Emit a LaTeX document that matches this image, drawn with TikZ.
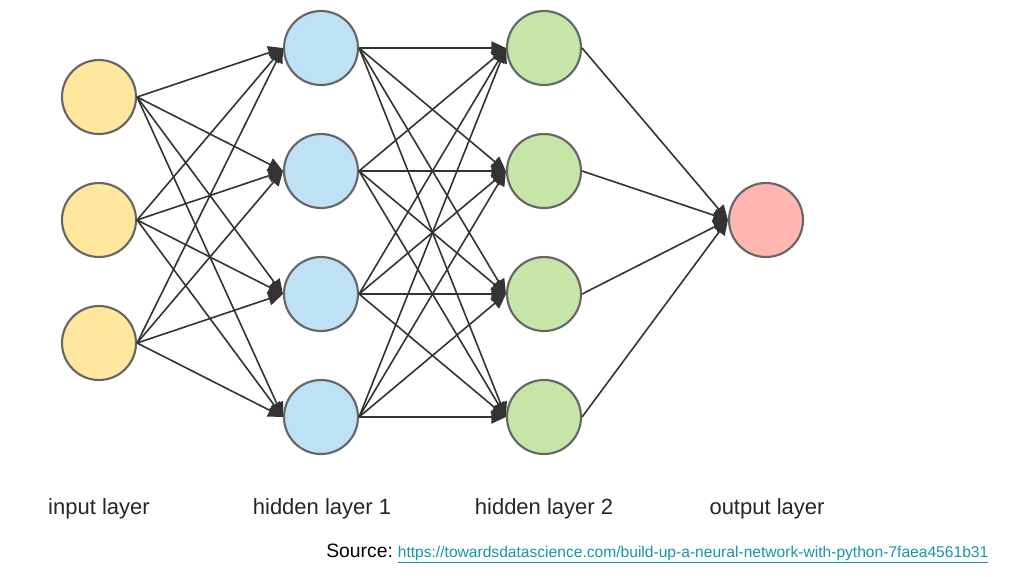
\documentclass[tikz,border=0pt]{standalone}
\usepackage{fontspec}
\setmainfont{Liberation Sans}
\usetikzlibrary{arrows.meta}
\definecolor{inyel}{HTML}{FFE79E}
\definecolor{hblue}{HTML}{BEE1F5}
\definecolor{hgreen}{HTML}{C6E6A7}
\definecolor{ored}{HTML}{FFB6B1}
\definecolor{ringc}{HTML}{666666}
\definecolor{edgec}{HTML}{333333}
\definecolor{linkc}{HTML}{1597A5}
\begin{document}
\begin{tikzpicture}[x=0.75pt,y=-0.75pt,
  neuron/.style={circle,draw=ringc,line width=1.6pt,minimum size=55.5pt,inner sep=0pt},
  conn/.style={draw=edgec,line width=1.2pt,-{Triangle[length=11pt,width=10pt]}},
  lbl/.style={font=\fontsize{16.5}{18}\selectfont,text=black!85,inner sep=0pt}]
\useasboundingbox[fill=white] (0,0) rectangle (1024,576);
% input
\node[neuron,fill=inyel] (i1) at (99,97) {};
\node[neuron,fill=inyel] (i2) at (99,220) {};
\node[neuron,fill=inyel] (i3) at (99,343) {};
% hidden 1
\node[neuron,fill=hblue] (a1) at (321,48) {};
\node[neuron,fill=hblue] (a2) at (321,171) {};
\node[neuron,fill=hblue] (a3) at (321,294) {};
\node[neuron,fill=hblue] (a4) at (321,417) {};
% hidden 2
\node[neuron,fill=hgreen] (b1) at (544,48) {};
\node[neuron,fill=hgreen] (b2) at (544,171) {};
\node[neuron,fill=hgreen] (b3) at (544,294) {};
\node[neuron,fill=hgreen] (b4) at (544,417) {};
% output
\node[neuron,fill=ored] (o) at (766,220) {};
% connections
\foreach \s in {i1,i2,i3}{\foreach \t in {a1,a2,a3,a4}{\draw[conn] (\s.east) -- (\t.west);}}
\foreach \s in {a1,a2,a3,a4}{\foreach \t in {b1,b2,b3,b4}{\draw[conn] (\s.east) -- (\t.west);}}
\foreach \s in {b1,b2,b3,b4}{\draw[conn] (\s.east) -- (o.west);}
% labels
\node[lbl] (l1) at (99,509) {input layer};
\node[lbl] (l2) at (322,509) {hidden layer 1};
\node[lbl] (l3) at (544,509) {hidden layer 2};
\node[lbl] (l4) at (767,509) {output layer};
\node[anchor=base west,inner sep=0pt] (src) at (326,557) {{\fontsize{14.5}{16}\selectfont Source:} {\fontsize{11.7}{13}\selectfont\color{linkc}\underline{https://towardsdatascience.com/build-up-a-neural-network-with-python-7faea4561b31}}};
\end{tikzpicture}
\end{document}
